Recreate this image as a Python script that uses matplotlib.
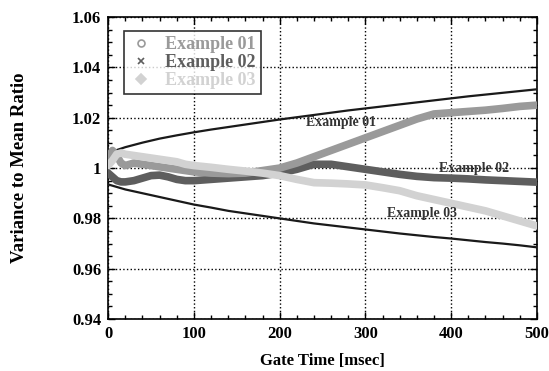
import matplotlib
matplotlib.use('Agg')
import matplotlib.pyplot as plt
from matplotlib.lines import Line2D
from matplotlib.ticker import MultipleLocator

plt.rcParams['font.family'] = ['Liberation Serif', 'DejaVu Serif']
plt.rcParams['font.weight'] = 'bold'

# Gate time for the three measured series [msec]
gate_time = [0, 5, 10, 15, 20, 30, 40, 50, 60, 70, 80, 90, 100, 120, 140, 160,
             180, 200, 220, 240, 260, 280, 300, 320, 340, 360, 380, 400, 420,
             440, 460, 480, 500]

example_01 = [1.004, 1.007, 1.005, 1.002, 1.001, 1.002, 1.0015, 1.001, 1.0005,
              1.000, 0.9995, 0.999, 0.9985, 0.998, 0.9978, 0.998, 0.999, 1.000,
              1.002, 1.0045, 1.007, 1.0095, 1.012, 1.0145, 1.017, 1.0195,
              1.0215, 1.022, 1.0225, 1.023, 1.0237, 1.0245, 1.025]

example_02 = [0.998, 0.9965, 0.995, 0.9945, 0.9945, 0.995, 0.996, 0.997, 0.9972,
              0.9965, 0.9955, 0.995, 0.995, 0.9955, 0.996, 0.9965, 0.997, 0.998,
              0.9995, 1.0015, 1.0015, 1.0005, 0.9995, 0.9985, 0.9975, 0.9967,
              0.9962, 0.996, 0.9957, 0.9953, 0.995, 0.9947, 0.9944]

example_03 = [1.001, 1.003, 1.0055, 1.006, 1.0055, 1.005, 1.0045, 1.004, 1.0035,
              1.003, 1.0025, 1.0015, 1.001, 1.0003, 0.9995, 0.9988, 0.998, 0.997,
              0.9955, 0.9942, 0.994, 0.9937, 0.9933, 0.9922, 0.991, 0.989,
              0.9875, 0.986, 0.9845, 0.983, 0.981, 0.979, 0.977]

# Confidence bounds
bound_time = [0, 20, 40, 60, 80, 100, 120, 140, 160, 180, 200, 220, 240, 260,
              280, 300, 320, 340, 360, 380, 400, 420, 440, 460, 480, 500]
upper_bound = [1.006, 1.0083, 1.0101, 1.0117, 1.013, 1.0142, 1.0153, 1.0163,
               1.0173, 1.0183, 1.0193, 1.0202, 1.0211, 1.022, 1.0229, 1.0237,
               1.0245, 1.0253, 1.0261, 1.0269, 1.0277, 1.0285, 1.0292, 1.0299,
               1.0306, 1.0313]
lower_bound = [0.9935, 0.9915, 0.990, 0.9885, 0.987, 0.9855, 0.9843, 0.983,
               0.982, 0.981, 0.980, 0.979, 0.978, 0.9772, 0.9764, 0.9756, 0.9748,
               0.974, 0.9733, 0.9726, 0.972, 0.9713, 0.9706, 0.970, 0.9693, 0.9685]

labels = ['Example 01', 'Example 02', 'Example 03']
colors = ['#9a9a9a', '#5e5e5e', '#d2d2d2']
markers = ['o', 'x', 'D']

fig = plt.figure(figsize=(5.49, 3.71), dpi=100)
ax = fig.add_axes([0.197, 0.140, 0.781, 0.814])

ax.plot(bound_time, upper_bound, color='#1a1a1a', lw=1.6, zorder=3)
ax.plot(bound_time, lower_bound, color='#1a1a1a', lw=1.6, zorder=3)

series = [example_01, example_02, example_03]
for i in [1, 0, 2]:
    ax.plot(gate_time, series[i], color=colors[i], lw=5.5, solid_capstyle='round',
            zorder=4)

ax.set_xlim(0, 500)
ax.set_ylim(0.94, 1.06)
ax.xaxis.set_major_locator(MultipleLocator(100))
ax.xaxis.set_minor_locator(MultipleLocator(20))
ax.yaxis.set_major_locator(MultipleLocator(0.02))
ax.yaxis.set_minor_locator(MultipleLocator(0.005))
ax.set_yticks([0.94, 0.96, 0.98, 1.0, 1.02, 1.04, 1.06])
ax.set_yticklabels(['0.94', '0.96', '0.98', '1', '1.02', '1.04', '1.06'])
ax.tick_params(which='both', direction='in', top=True, right=True, width=1)
ax.tick_params(which='major', length=5, labelsize=12, pad=5)
ax.tick_params(which='minor', length=3)
for s in ax.spines.values():
    s.set_linewidth(1.2)
ax.grid(True, which='major', linestyle=':', color='black', lw=1)

ax.set_xlabel('Gate Time [msec]', fontsize=12, fontweight='bold', labelpad=8)
ax.set_ylabel('Variance to Mean Ratio', fontsize=13.5, fontweight='bold',
              labelpad=32)

for txt, xx, yy in [('Example 01', 272, 1.018), ('Example 02', 427, 1.0),
                    ('Example 03', 366, 0.982)]:
    ax.text(xx, yy, txt, fontsize=10, fontweight='bold', color='#333333',
            ha='center', va='center', zorder=5)

handles = [Line2D([], [], ls='none', marker=markers[i], color=colors[i],
                  markerfacecolor='none' if i == 0 else colors[i],
                  markersize=5, markeredgewidth=1.2) for i in range(3)]
leg = ax.legend(handles, labels, loc='upper left', bbox_to_anchor=(0.015, 0.985),
                frameon=True, fancybox=False, edgecolor='black', fontsize=13,
                handlelength=1.3, borderpad=0.3, labelspacing=0.05,
                handletextpad=0.7)
leg.get_frame().set_linewidth(1.2)
leg.set_zorder(6)
for t, c in zip(leg.get_texts(), colors):
    t.set_color(c)
    t.set_fontweight('bold')

fig.savefig('out.png', dpi=100)
